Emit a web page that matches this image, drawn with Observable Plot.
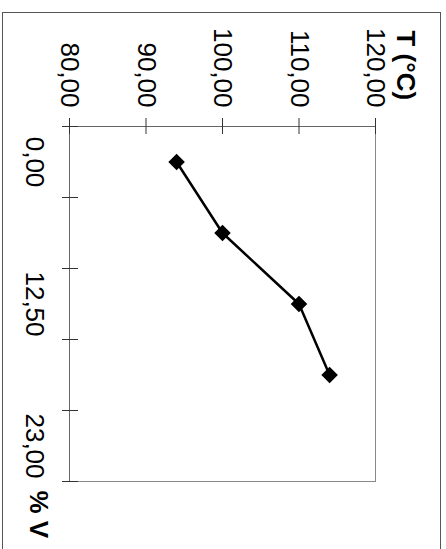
<!DOCTYPE html>
<html>
<head>
<meta charset="utf-8">
<script src="https://cdn.jsdelivr.net/npm/d3@7"></script>
<script src="https://cdn.jsdelivr.net/npm/@observablehq/plot@0.6"></script>
<style>
  html, body { margin: 0; padding: 0; background: #fff; }
  #page { position: relative; width: 446px; height: 549px; overflow: hidden; background: #fff; }
  #border { position: absolute; left: 2px; top: 12px; width: 439px; height: 580px; border: 1px solid #555; box-sizing: border-box; z-index: 2; }
  #chart { position: absolute; left: 0; top: 0; width: 549px; height: 446px; }
  #chart svg { position: absolute; left: 0; top: 0; width: 549px; height: 446px; max-width: none; transform-origin: 0 0; transform: translate(446px, 0) rotate(90deg); }
</style>
</head>
<body>
<div id="page">
  <div id="chart"></div>
  <div id="border"></div>
</div>
<script>
// % V categories (only some are labelled on the axis)
const vLabels = ["0,00", "", "12,50", "", "23,00"];
// Temperature measured for the first categories
const tValues = [94, 100, 110, 114];
// Temperature axis ticks
const tTicks = [80, 90, 100, 110, 120];
const tTitle = "T (°C)";
const vTitle = "% V";

const points = tValues.map((t, k) => ({k, t}));
const comma = d => d.toFixed(2).replace(".", ",");
const catCenters = vLabels.map((_, k) => k + 0.5);
const catBounds = d3.range(vLabels.length + 1);

const chart = Plot.plot({
  width: 549,
  height: 446,
  marginLeft: 126,
  marginRight: 68,
  marginTop: 70,
  marginBottom: 70,
  style: {fontFamily: "'Liberation Sans', Arial, sans-serif", fontSize: "26px", color: "#000", background: "transparent", overflow: "visible"},
  x: {domain: [0, vLabels.length], label: null},
  y: {domain: [80, 120], label: null},
  marks: [
    Plot.frame({stroke: "#888"}),
    Plot.ruleX([0], {stroke: "#666"}),
    Plot.ruleY([80], {stroke: "#666"}),
    // crossing tick marks
    Plot.axisY(tTicks, {tickSize: 16, dx: 8, text: null, stroke: "#333"}),
    Plot.axisX(catBounds, {tickSize: 16, dy: -8, text: null, stroke: "#333"}),
    // tick labels
    Plot.axisY(tTicks, {tickSize: 0, tickPadding: 19, tickFormat: comma, fill: "#000"}),
    Plot.axisX(catCenters, {tickSize: 0, tickPadding: 25, tickFormat: c => vLabels[Math.floor(c)], fill: "#000"}),
    Plot.line(points, {x: d => d.k + 0.5, y: "t", stroke: "#000", strokeWidth: 2.5}),
    Plot.dot(points, {x: d => d.k + 0.5, y: "t", symbol: "diamond2", r: 6.5, fill: "#000", stroke: "#000"}),
    Plot.text([tTitle], {frameAnchor: "top-left", dx: -96, dy: -21, textAnchor: "start", lineAnchor: "bottom", fontWeight: "bold", fontSize: 26, fill: "#000"}),
    Plot.text([vTitle], {frameAnchor: "bottom-right", dx: 9, dy: 40, textAnchor: "start", lineAnchor: "bottom", fontWeight: "bold", fontSize: 26, fill: "#000"})
  ]
});
document.getElementById("chart").appendChild(chart);
</script>
</body>
</html>
